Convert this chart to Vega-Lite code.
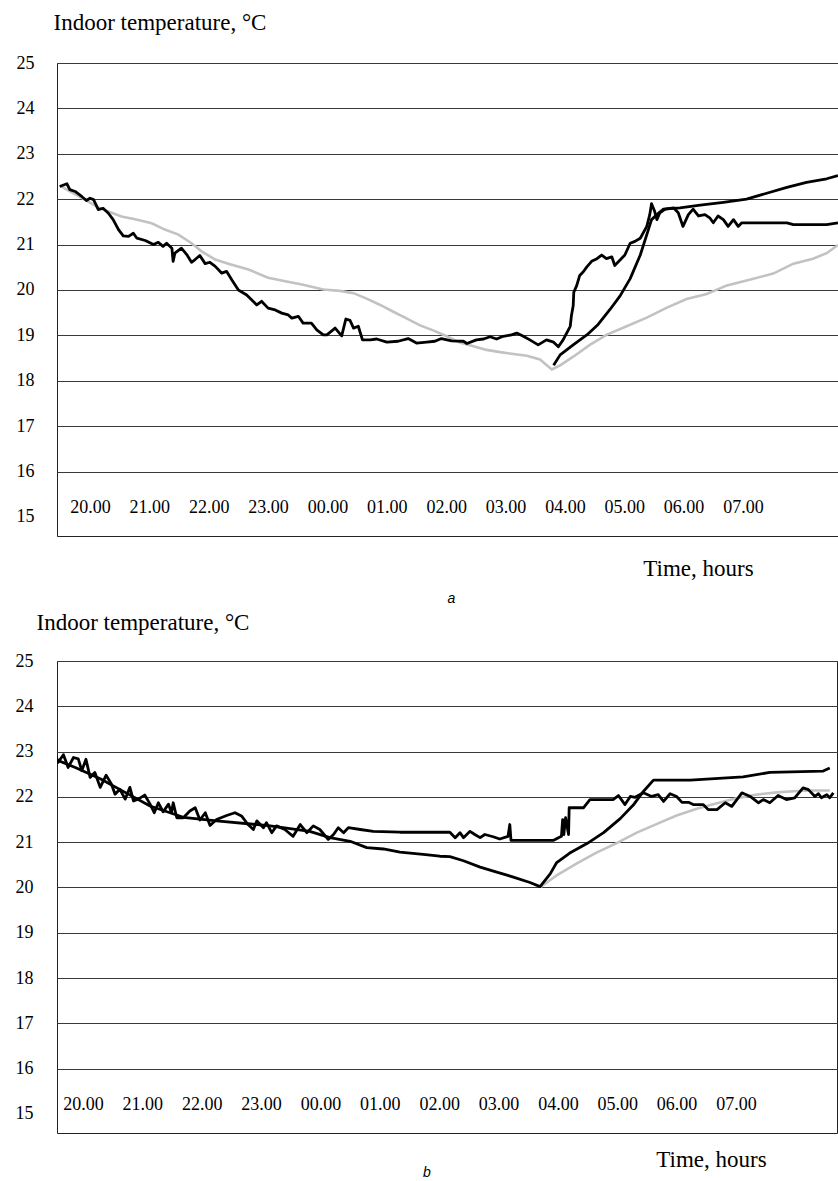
{
  "$schema": "https://vega.github.io/schema/vega-lite/v6.json",
  "background": "white",
  "padding": {"left": 14, "top": 10, "right": 0, "bottom": 0},
  "config": {
    "font": "Liberation Serif",
    "view": {"stroke": "#222222", "strokeWidth": 1}
  },
  "datasets": {
    "temps": [
      {"panel":"a","series":"measured","hour":-0.51,"temp":22.28},{"panel":"a","series":"measured","hour":-0.39,"temp":22.34},{"panel":"a","series":"measured","hour":-0.34,"temp":22.21},{"panel":"a","series":"measured","hour":-0.25,"temp":22.17},{"panel":"a","series":"measured","hour":-0.14,"temp":22.06},{"panel":"a","series":"measured","hour":-0.06,"temp":21.97},{"panel":"a","series":"measured","hour":0.0,"temp":22.02},{"panel":"a","series":"measured","hour":0.06,"temp":21.99},{"panel":"a","series":"measured","hour":0.14,"temp":21.77},{"panel":"a","series":"measured","hour":0.22,"temp":21.8},{"panel":"a","series":"measured","hour":0.31,"temp":21.69},{"panel":"a","series":"measured","hour":0.39,"temp":21.55},{"panel":"a","series":"measured","hour":0.48,"temp":21.33},{"panel":"a","series":"measured","hour":0.56,"temp":21.19},{"panel":"a","series":"measured","hour":0.65,"temp":21.18},{"panel":"a","series":"measured","hour":0.73,"temp":21.25},{"panel":"a","series":"measured","hour":0.79,"temp":21.14},{"panel":"a","series":"measured","hour":0.93,"temp":21.09},{"panel":"a","series":"measured","hour":1.07,"temp":21.0},{"panel":"a","series":"measured","hour":1.15,"temp":21.05},{"panel":"a","series":"measured","hour":1.23,"temp":20.96},{"panel":"a","series":"measured","hour":1.29,"temp":21.03},{"panel":"a","series":"measured","hour":1.38,"temp":20.92},{"panel":"a","series":"measured","hour":1.4,"temp":20.63},{"panel":"a","series":"measured","hour":1.43,"temp":20.81},{"panel":"a","series":"measured","hour":1.54,"temp":20.92},{"panel":"a","series":"measured","hour":1.63,"temp":20.78},{"panel":"a","series":"measured","hour":1.71,"temp":20.61},{"panel":"a","series":"measured","hour":1.77,"temp":20.67},{"panel":"a","series":"measured","hour":1.85,"temp":20.76},{"panel":"a","series":"measured","hour":1.94,"temp":20.58},{"panel":"a","series":"measured","hour":2.02,"temp":20.61},{"panel":"a","series":"measured","hour":2.11,"temp":20.52},{"panel":"a","series":"measured","hour":2.22,"temp":20.37},{"panel":"a","series":"measured","hour":2.3,"temp":20.41},{"panel":"a","series":"measured","hour":2.39,"temp":20.22},{"panel":"a","series":"measured","hour":2.5,"temp":20.0},{"panel":"a","series":"measured","hour":2.64,"temp":19.89},{"panel":"a","series":"measured","hour":2.81,"temp":19.67},{"panel":"a","series":"measured","hour":2.89,"temp":19.75},{"panel":"a","series":"measured","hour":3.0,"temp":19.6},{"panel":"a","series":"measured","hour":3.12,"temp":19.56},{"panel":"a","series":"measured","hour":3.23,"temp":19.49},{"panel":"a","series":"measured","hour":3.34,"temp":19.45},{"panel":"a","series":"measured","hour":3.4,"temp":19.38},{"panel":"a","series":"measured","hour":3.51,"temp":19.42},{"panel":"a","series":"measured","hour":3.59,"temp":19.27},{"panel":"a","series":"measured","hour":3.73,"temp":19.27},{"panel":"a","series":"measured","hour":3.82,"temp":19.12},{"panel":"a","series":"measured","hour":3.93,"temp":19.01},{"panel":"a","series":"measured","hour":3.99,"temp":19.01},{"panel":"a","series":"measured","hour":4.13,"temp":19.16},{"panel":"a","series":"measured","hour":4.24,"temp":18.99},{"panel":"a","series":"measured","hour":4.31,"temp":19.36},{"panel":"a","series":"measured","hour":4.38,"temp":19.33},{"panel":"a","series":"measured","hour":4.44,"temp":19.16},{"panel":"a","series":"measured","hour":4.52,"temp":19.2},{"panel":"a","series":"measured","hour":4.59,"temp":18.9},{"panel":"a","series":"measured","hour":4.72,"temp":18.9},{"panel":"a","series":"measured","hour":4.83,"temp":18.92},{"panel":"a","series":"measured","hour":5.0,"temp":18.85},{"panel":"a","series":"measured","hour":5.19,"temp":18.87},{"panel":"a","series":"measured","hour":5.36,"temp":18.93},{"panel":"a","series":"measured","hour":5.5,"temp":18.83},{"panel":"a","series":"measured","hour":5.67,"temp":18.85},{"panel":"a","series":"measured","hour":5.81,"temp":18.87},{"panel":"a","series":"measured","hour":5.92,"temp":18.93},{"panel":"a","series":"measured","hour":6.09,"temp":18.88},{"panel":"a","series":"measured","hour":6.29,"temp":18.87},{"panel":"a","series":"measured","hour":6.35,"temp":18.82},{"panel":"a","series":"measured","hour":6.51,"temp":18.9},{"panel":"a","series":"measured","hour":6.63,"temp":18.92},{"panel":"a","series":"measured","hour":6.74,"temp":18.97},{"panel":"a","series":"measured","hour":6.85,"temp":18.92},{"panel":"a","series":"measured","hour":6.96,"temp":18.98},{"panel":"a","series":"measured","hour":7.1,"temp":19.01},{"panel":"a","series":"measured","hour":7.19,"temp":19.05},{"panel":"a","series":"measured","hour":7.3,"temp":18.98},{"panel":"a","series":"measured","hour":7.41,"temp":18.9},{"panel":"a","series":"measured","hour":7.55,"temp":18.79},{"panel":"a","series":"measured","hour":7.69,"temp":18.9},{"panel":"a","series":"measured","hour":7.81,"temp":18.85},{"panel":"a","series":"measured","hour":7.89,"temp":18.75},{"panel":"a","series":"measured","hour":7.97,"temp":18.9},{"panel":"a","series":"measured","hour":8.03,"temp":19.05},{"panel":"a","series":"measured","hour":8.09,"temp":19.2},{"panel":"a","series":"measured","hour":8.11,"temp":19.43},{"panel":"a","series":"measured","hour":8.14,"temp":19.65},{"panel":"a","series":"measured","hour":8.15,"temp":19.95},{"panel":"a","series":"measured","hour":8.2,"temp":20.1},{"panel":"a","series":"measured","hour":8.25,"temp":20.32},{"panel":"a","series":"measured","hour":8.31,"temp":20.4},{"panel":"a","series":"measured","hour":8.37,"temp":20.51},{"panel":"a","series":"measured","hour":8.45,"temp":20.63},{"panel":"a","series":"measured","hour":8.54,"temp":20.69},{"panel":"a","series":"measured","hour":8.62,"temp":20.77},{"panel":"a","series":"measured","hour":8.7,"temp":20.69},{"panel":"a","series":"measured","hour":8.79,"temp":20.73},{"panel":"a","series":"measured","hour":8.84,"temp":20.54},{"panel":"a","series":"measured","hour":8.93,"temp":20.66},{"panel":"a","series":"measured","hour":9.01,"temp":20.77},{"panel":"a","series":"measured","hour":9.1,"temp":21.03},{"panel":"a","series":"measured","hour":9.18,"temp":21.07},{"panel":"a","series":"measured","hour":9.27,"temp":21.14},{"panel":"a","series":"measured","hour":9.38,"temp":21.4},{"panel":"a","series":"measured","hour":9.43,"temp":21.66},{"panel":"a","series":"measured","hour":9.46,"temp":21.9},{"panel":"a","series":"measured","hour":9.51,"temp":21.74},{"panel":"a","series":"measured","hour":9.55,"temp":21.55},{"panel":"a","series":"measured","hour":9.6,"temp":21.7},{"panel":"a","series":"measured","hour":9.69,"temp":21.78},{"panel":"a","series":"measured","hour":9.83,"temp":21.81},{"panel":"a","series":"measured","hour":9.91,"temp":21.7},{"panel":"a","series":"measured","hour":9.99,"temp":21.4},{"panel":"a","series":"measured","hour":10.08,"temp":21.66},{"panel":"a","series":"measured","hour":10.16,"temp":21.78},{"panel":"a","series":"measured","hour":10.25,"temp":21.63},{"panel":"a","series":"measured","hour":10.36,"temp":21.66},{"panel":"a","series":"measured","hour":10.44,"temp":21.59},{"panel":"a","series":"measured","hour":10.5,"temp":21.48},{"panel":"a","series":"measured","hour":10.58,"temp":21.63},{"panel":"a","series":"measured","hour":10.67,"temp":21.55},{"panel":"a","series":"measured","hour":10.75,"temp":21.4},{"panel":"a","series":"measured","hour":10.84,"temp":21.55},{"panel":"a","series":"measured","hour":10.92,"temp":21.4},{"panel":"a","series":"measured","hour":10.98,"temp":21.48},{"panel":"a","series":"measured","hour":11.74,"temp":21.48},{"panel":"a","series":"measured","hour":11.85,"temp":21.44},{"panel":"a","series":"measured","hour":12.41,"temp":21.44},{"panel":"a","series":"measured","hour":12.6,"temp":21.48},
      {"panel":"a","series":"model","hour":7.81,"temp":18.34},{"panel":"a","series":"model","hour":7.92,"temp":18.57},{"panel":"a","series":"model","hour":8.14,"temp":18.79},{"panel":"a","series":"model","hour":8.37,"temp":19.01},{"panel":"a","series":"model","hour":8.56,"temp":19.24},{"panel":"a","series":"model","hour":8.76,"temp":19.57},{"panel":"a","series":"model","hour":8.93,"temp":19.87},{"panel":"a","series":"model","hour":9.1,"temp":20.25},{"panel":"a","series":"model","hour":9.27,"temp":20.77},{"panel":"a","series":"model","hour":9.38,"temp":21.22},{"panel":"a","series":"model","hour":9.46,"temp":21.55},{"panel":"a","series":"model","hour":9.55,"temp":21.66},{"panel":"a","series":"model","hour":9.66,"temp":21.78},{"panel":"a","series":"model","hour":9.94,"temp":21.81},{"panel":"a","series":"model","hour":10.28,"temp":21.87},{"panel":"a","series":"model","hour":10.67,"temp":21.93},{"panel":"a","series":"model","hour":11.06,"temp":22.0},{"panel":"a","series":"model","hour":11.4,"temp":22.13},{"panel":"a","series":"model","hour":11.74,"temp":22.26},{"panel":"a","series":"model","hour":12.07,"temp":22.37},{"panel":"a","series":"model","hour":12.41,"temp":22.45},{"panel":"a","series":"model","hour":12.6,"temp":22.52},
      {"panel":"a","series":"baseline","hour":-0.51,"temp":22.3},{"panel":"a","series":"baseline","hour":-0.17,"temp":22.05},{"panel":"a","series":"baseline","hour":0.17,"temp":21.8},{"panel":"a","series":"baseline","hour":0.31,"temp":21.73},{"panel":"a","series":"baseline","hour":0.53,"temp":21.62},{"panel":"a","series":"baseline","hour":0.76,"temp":21.56},{"panel":"a","series":"baseline","hour":1.04,"temp":21.47},{"panel":"a","series":"baseline","hour":1.26,"temp":21.33},{"panel":"a","series":"baseline","hour":1.49,"temp":21.22},{"panel":"a","series":"baseline","hour":1.71,"temp":21.03},{"panel":"a","series":"baseline","hour":1.88,"temp":20.85},{"panel":"a","series":"baseline","hour":2.11,"temp":20.67},{"panel":"a","series":"baseline","hour":2.33,"temp":20.58},{"panel":"a","series":"baseline","hour":2.67,"temp":20.45},{"panel":"a","series":"baseline","hour":3.0,"temp":20.27},{"panel":"a","series":"baseline","hour":3.29,"temp":20.19},{"panel":"a","series":"baseline","hour":3.57,"temp":20.12},{"panel":"a","series":"baseline","hour":3.93,"temp":20.01},{"panel":"a","series":"baseline","hour":4.21,"temp":19.98},{"panel":"a","series":"baseline","hour":4.44,"temp":19.93},{"panel":"a","series":"baseline","hour":4.66,"temp":19.81},{"panel":"a","series":"baseline","hour":4.89,"temp":19.67},{"panel":"a","series":"baseline","hour":5.11,"temp":19.52},{"panel":"a","series":"baseline","hour":5.34,"temp":19.37},{"panel":"a","series":"baseline","hour":5.56,"temp":19.22},{"panel":"a","series":"baseline","hour":5.78,"temp":19.11},{"panel":"a","series":"baseline","hour":6.01,"temp":18.98},{"panel":"a","series":"baseline","hour":6.23,"temp":18.84},{"panel":"a","series":"baseline","hour":6.46,"temp":18.76},{"panel":"a","series":"baseline","hour":6.68,"temp":18.68},{"panel":"a","series":"baseline","hour":6.91,"temp":18.63},{"panel":"a","series":"baseline","hour":7.13,"temp":18.59},{"panel":"a","series":"baseline","hour":7.36,"temp":18.55},{"panel":"a","series":"baseline","hour":7.58,"temp":18.47},{"panel":"a","series":"baseline","hour":7.78,"temp":18.25},{"panel":"a","series":"baseline","hour":7.92,"temp":18.34},{"panel":"a","series":"baseline","hour":8.14,"temp":18.53},{"panel":"a","series":"baseline","hour":8.42,"temp":18.79},{"panel":"a","series":"baseline","hour":8.7,"temp":19.01},{"panel":"a","series":"baseline","hour":9.04,"temp":19.2},{"panel":"a","series":"baseline","hour":9.38,"temp":19.39},{"panel":"a","series":"baseline","hour":9.72,"temp":19.61},{"panel":"a","series":"baseline","hour":10.05,"temp":19.8},{"panel":"a","series":"baseline","hour":10.39,"temp":19.91},{"panel":"a","series":"baseline","hour":10.73,"temp":20.1},{"panel":"a","series":"baseline","hour":11.06,"temp":20.21},{"panel":"a","series":"baseline","hour":11.51,"temp":20.36},{"panel":"a","series":"baseline","hour":11.85,"temp":20.58},{"panel":"a","series":"baseline","hour":12.18,"temp":20.69},{"panel":"a","series":"baseline","hour":12.41,"temp":20.81},{"panel":"a","series":"baseline","hour":12.6,"temp":20.99},
      {"panel":"b","series":"measured","hour":-0.51,"temp":22.84},{"panel":"b","series":"measured","hour":-0.47,"temp":22.97},{"panel":"b","series":"measured","hour":-0.42,"temp":22.76},{"panel":"b","series":"measured","hour":-0.33,"temp":22.93},{"panel":"b","series":"measured","hour":-0.25,"temp":22.65},{"panel":"b","series":"measured","hour":-0.16,"temp":22.87},{"panel":"b","series":"measured","hour":-0.08,"temp":22.84},{"panel":"b","series":"measured","hour":-0.02,"temp":22.58},{"panel":"b","series":"measured","hour":0.05,"temp":22.83},{"panel":"b","series":"measured","hour":0.12,"temp":22.43},{"panel":"b","series":"measured","hour":0.2,"temp":22.54},{"panel":"b","series":"measured","hour":0.29,"temp":22.21},{"panel":"b","series":"measured","hour":0.39,"temp":22.48},{"panel":"b","series":"measured","hour":0.48,"temp":22.28},{"panel":"b","series":"measured","hour":0.54,"temp":22.06},{"panel":"b","series":"measured","hour":0.62,"temp":22.17},{"panel":"b","series":"measured","hour":0.71,"temp":21.95},{"panel":"b","series":"measured","hour":0.79,"temp":22.21},{"panel":"b","series":"measured","hour":0.85,"temp":21.91},{"panel":"b","series":"measured","hour":0.93,"temp":21.95},{"panel":"b","series":"measured","hour":1.04,"temp":22.04},{"panel":"b","series":"measured","hour":1.13,"temp":21.84},{"panel":"b","series":"measured","hour":1.2,"temp":21.65},{"panel":"b","series":"measured","hour":1.27,"temp":21.87},{"panel":"b","series":"measured","hour":1.35,"temp":21.67},{"panel":"b","series":"measured","hour":1.44,"temp":21.84},{"panel":"b","series":"measured","hour":1.49,"temp":21.65},{"panel":"b","series":"measured","hour":1.52,"temp":21.87},{"panel":"b","series":"measured","hour":1.58,"temp":21.54},{"panel":"b","series":"measured","hour":1.69,"temp":21.54},{"panel":"b","series":"measured","hour":1.8,"temp":21.69},{"panel":"b","series":"measured","hour":1.89,"temp":21.76},{"panel":"b","series":"measured","hour":1.97,"temp":21.49},{"panel":"b","series":"measured","hour":2.06,"temp":21.65},{"panel":"b","series":"measured","hour":2.14,"temp":21.37},{"panel":"b","series":"measured","hour":2.25,"temp":21.5},{"panel":"b","series":"measured","hour":2.42,"temp":21.59},{"panel":"b","series":"measured","hour":2.56,"temp":21.65},{"panel":"b","series":"measured","hour":2.67,"temp":21.58},{"panel":"b","series":"measured","hour":2.78,"temp":21.39},{"panel":"b","series":"measured","hour":2.87,"temp":21.28},{"panel":"b","series":"measured","hour":2.93,"temp":21.47},{"panel":"b","series":"measured","hour":3.04,"temp":21.32},{"panel":"b","series":"measured","hour":3.09,"temp":21.43},{"panel":"b","series":"measured","hour":3.18,"temp":21.21},{"panel":"b","series":"measured","hour":3.26,"temp":21.36},{"panel":"b","series":"measured","hour":3.4,"temp":21.28},{"panel":"b","series":"measured","hour":3.54,"temp":21.13},{"panel":"b","series":"measured","hour":3.66,"temp":21.39},{"panel":"b","series":"measured","hour":3.77,"temp":21.21},{"panel":"b","series":"measured","hour":3.88,"temp":21.36},{"panel":"b","series":"measured","hour":3.99,"temp":21.28},{"panel":"b","series":"measured","hour":4.13,"temp":21.06},{"panel":"b","series":"measured","hour":4.22,"temp":21.17},{"panel":"b","series":"measured","hour":4.3,"temp":21.32},{"panel":"b","series":"measured","hour":4.39,"temp":21.21},{"panel":"b","series":"measured","hour":4.47,"temp":21.32},{"panel":"b","series":"measured","hour":4.67,"temp":21.28},{"panel":"b","series":"measured","hour":4.89,"temp":21.24},{"panel":"b","series":"measured","hour":5.34,"temp":21.22},{"panel":"b","series":"measured","hour":6.18,"temp":21.22},{"panel":"b","series":"measured","hour":6.27,"temp":21.1},{"panel":"b","series":"measured","hour":6.35,"temp":21.21},{"panel":"b","series":"measured","hour":6.41,"temp":21.1},{"panel":"b","series":"measured","hour":6.52,"temp":21.24},{"panel":"b","series":"measured","hour":6.6,"temp":21.17},{"panel":"b","series":"measured","hour":6.69,"temp":21.1},{"panel":"b","series":"measured","hour":6.77,"temp":21.17},{"panel":"b","series":"measured","hour":6.91,"temp":21.12},{"panel":"b","series":"measured","hour":7.02,"temp":21.07},{"panel":"b","series":"measured","hour":7.16,"temp":21.13},{"panel":"b","series":"measured","hour":7.19,"temp":21.39},{"panel":"b","series":"measured","hour":7.21,"temp":21.04},{"panel":"b","series":"measured","hour":7.59,"temp":21.04},{"panel":"b","series":"measured","hour":7.92,"temp":21.04},{"panel":"b","series":"measured","hour":8.01,"temp":21.1},{"panel":"b","series":"measured","hour":8.06,"temp":21.13},{"panel":"b","series":"measured","hour":8.08,"temp":21.5},{"panel":"b","series":"measured","hour":8.1,"temp":21.17},{"panel":"b","series":"measured","hour":8.13,"temp":21.54},{"panel":"b","series":"measured","hour":8.18,"temp":21.17},{"panel":"b","series":"measured","hour":8.19,"temp":21.76},{"panel":"b","series":"measured","hour":8.43,"temp":21.76},{"panel":"b","series":"measured","hour":8.54,"temp":21.94},{"panel":"b","series":"measured","hour":8.93,"temp":21.94},{"panel":"b","series":"measured","hour":9.02,"temp":22.03},{"panel":"b","series":"measured","hour":9.13,"temp":21.83},{"panel":"b","series":"measured","hour":9.22,"temp":22.01},{"panel":"b","series":"measured","hour":9.3,"temp":21.99},{"panel":"b","series":"measured","hour":9.44,"temp":22.09},{"panel":"b","series":"measured","hour":9.58,"temp":22.01},{"panel":"b","series":"measured","hour":9.69,"temp":22.05},{"panel":"b","series":"measured","hour":9.78,"temp":21.9},{"panel":"b","series":"measured","hour":9.89,"temp":22.07},{"panel":"b","series":"measured","hour":10.0,"temp":22.01},{"panel":"b","series":"measured","hour":10.09,"temp":21.88},{"panel":"b","series":"measured","hour":10.2,"temp":21.88},{"panel":"b","series":"measured","hour":10.28,"temp":21.83},{"panel":"b","series":"measured","hour":10.45,"temp":21.83},{"panel":"b","series":"measured","hour":10.53,"temp":21.72},{"panel":"b","series":"measured","hour":10.68,"temp":21.72},{"panel":"b","series":"measured","hour":10.82,"temp":21.87},{"panel":"b","series":"measured","hour":10.93,"temp":21.79},{"panel":"b","series":"measured","hour":11.1,"temp":22.09},{"panel":"b","series":"measured","hour":11.24,"temp":22.01},{"panel":"b","series":"measured","hour":11.38,"temp":21.87},{"panel":"b","series":"measured","hour":11.46,"temp":21.94},{"panel":"b","series":"measured","hour":11.57,"temp":21.87},{"panel":"b","series":"measured","hour":11.71,"temp":22.03},{"panel":"b","series":"measured","hour":11.85,"temp":21.94},{"panel":"b","series":"measured","hour":11.99,"temp":21.98},{"panel":"b","series":"measured","hour":12.13,"temp":22.2},{"panel":"b","series":"measured","hour":12.22,"temp":22.16},{"panel":"b","series":"measured","hour":12.33,"temp":22.01},{"panel":"b","series":"measured","hour":12.39,"temp":22.07},{"panel":"b","series":"measured","hour":12.44,"temp":21.98},{"panel":"b","series":"measured","hour":12.53,"temp":22.05},{"panel":"b","series":"measured","hour":12.58,"temp":21.98},{"panel":"b","series":"measured","hour":12.64,"temp":22.09},
      {"panel":"b","series":"model","hour":-0.51,"temp":22.85},{"panel":"b","series":"model","hour":-0.13,"temp":22.65},{"panel":"b","series":"model","hour":0.29,"temp":22.4},{"panel":"b","series":"model","hour":0.71,"temp":22.1},{"panel":"b","series":"model","hour":1.13,"temp":21.8},{"panel":"b","series":"model","hour":1.69,"temp":21.55},{"panel":"b","series":"model","hour":2.25,"temp":21.47},{"panel":"b","series":"model","hour":3.09,"temp":21.37},{"panel":"b","series":"model","hour":3.37,"temp":21.32},{"panel":"b","series":"model","hour":3.82,"temp":21.24},{"panel":"b","series":"model","hour":4.16,"temp":21.1},{"panel":"b","series":"model","hour":4.5,"temp":21.02},{"panel":"b","series":"model","hour":4.78,"temp":20.88},{"panel":"b","series":"model","hour":5.06,"temp":20.85},{"panel":"b","series":"model","hour":5.34,"temp":20.78},{"panel":"b","series":"model","hour":5.73,"temp":20.73},{"panel":"b","series":"model","hour":6.01,"temp":20.69},{"panel":"b","series":"model","hour":6.18,"temp":20.68},{"panel":"b","series":"model","hour":6.41,"temp":20.59},{"panel":"b","series":"model","hour":6.69,"temp":20.45},{"panel":"b","series":"model","hour":6.97,"temp":20.34},{"panel":"b","series":"model","hour":7.25,"temp":20.23},{"panel":"b","series":"model","hour":7.53,"temp":20.11},{"panel":"b","series":"model","hour":7.7,"temp":20.02},{"panel":"b","series":"model","hour":7.87,"temp":20.3},{"panel":"b","series":"model","hour":7.98,"temp":20.55},{"panel":"b","series":"model","hour":8.2,"temp":20.76},{"panel":"b","series":"model","hour":8.49,"temp":20.97},{"panel":"b","series":"model","hour":8.77,"temp":21.21},{"panel":"b","series":"model","hour":9.05,"temp":21.52},{"panel":"b","series":"model","hour":9.27,"temp":21.82},{"panel":"b","series":"model","hour":9.44,"temp":22.12},{"panel":"b","series":"model","hour":9.61,"temp":22.37},{"panel":"b","series":"model","hour":10.23,"temp":22.37},{"panel":"b","series":"model","hour":11.12,"temp":22.44},{"panel":"b","series":"model","hour":11.57,"temp":22.54},{"panel":"b","series":"model","hour":12.47,"temp":22.57},{"panel":"b","series":"model","hour":12.58,"temp":22.64},
      {"panel":"b","series":"baseline","hour":7.7,"temp":20.0},{"panel":"b","series":"baseline","hour":7.98,"temp":20.27},{"panel":"b","series":"baseline","hour":8.32,"temp":20.53},{"panel":"b","series":"baseline","hour":8.65,"temp":20.77},{"panel":"b","series":"baseline","hour":8.99,"temp":20.98},{"panel":"b","series":"baseline","hour":9.33,"temp":21.21},{"panel":"b","series":"baseline","hour":9.66,"temp":21.4},{"panel":"b","series":"baseline","hour":10.0,"temp":21.59},{"panel":"b","series":"baseline","hour":10.34,"temp":21.74},{"panel":"b","series":"baseline","hour":10.68,"temp":21.86},{"panel":"b","series":"baseline","hour":11.01,"temp":21.97},{"panel":"b","series":"baseline","hour":11.35,"temp":22.05},{"panel":"b","series":"baseline","hour":11.69,"temp":22.1},{"panel":"b","series":"baseline","hour":12.03,"temp":22.13},{"panel":"b","series":"baseline","hour":12.3,"temp":22.14},{"panel":"b","series":"baseline","hour":12.58,"temp":22.14}
    ]
  },
  "concat": [
    {
      "width": 781,
      "height": 473,
      "title": {"text": "a", "orient": "bottom", "anchor": "middle", "font": "Liberation Sans", "fontStyle": "italic", "fontWeight": "normal", "fontSize": 14, "color": "#000000", "offset": 8, "dy": 4, "dx": 4},
      "data": {"name": "temps"},
      "transform": [{"filter": "datum.panel == 'a'"}],
      "encoding": {
        "x": {"field": "hour", "type": "quantitative",
          "scale": {"domain": [-0.556, 12.601], "nice": false, "zero": false},
          "axis": {"values": [0,1,2,3,4,5,6,7,8,9,10,11],
            "labelExpr": "(((datum.value + 20) % 24) < 10 ? '0' : '') + ((datum.value + 20) % 24) + '.00'",
            "ticks": false, "domain": false, "grid": false, "labelFlush": false, "labelOverlap": false,
            "labelPadding": -29, "labelBaseline": "middle", "labelFontSize": 18, "labelColor": "#000000", "labelFont": "Liberation Serif",
            "title": "Time, hours", "titleFont": "Liberation Serif", "titleFontSize": 23, "titleFontWeight": "normal", "titleColor": "#000000",
            "titleX": 641, "titleY": 39, "titleAlign": "center", "titleBaseline": "alphabetic"}},
        "y": {"field": "temp", "type": "quantitative",
          "scale": {"domain": [14.58, 25], "nice": false, "zero": false},
          "axis": {"values": [15,16,17,18,19,20,21,22,23,24,25],
            "ticks": false, "domain": false, "grid": true, "gridColor": "#3a3a3a", "gridWidth": 1,
            "gridOpacity": {"condition": {"test": "datum.value == 15", "value": 0}, "value": 1},
            "labelFlush": false, "labelPadding": 23, "labelFontSize": 18, "labelColor": "#000000", "labelFont": "Liberation Serif",
            "title": "Indoor temperature, °C", "titleFont": "Liberation Serif", "titleFontSize": 23, "titleFontWeight": "normal", "titleColor": "#000000",
            "titleAngle": 0, "titleAlign": "left", "titleBaseline": "alphabetic", "titleX": -4, "titleY": -34}}
      },
      "layer": [
        {"transform": [{"filter": "datum.series == 'baseline'"}], "mark": {"type": "line", "color": "#c2c2c2", "strokeWidth": 2.6, "clip": true}},
        {"transform": [{"filter": "datum.series != 'baseline'"}], "mark": {"type": "line", "color": "#000000", "strokeWidth": 2.8, "strokeJoin": "round", "clip": true}, "encoding": {"detail": {"field": "series"}}}
      ]
    },
    {
      "width": 780,
      "height": 472,
      "title": {"text": "b", "orient": "bottom", "anchor": "middle", "font": "Liberation Sans", "fontStyle": "italic", "fontWeight": "normal", "fontSize": 14, "color": "#000000", "offset": 8, "dy": -13, "dx": -20},
      "data": {"name": "temps"},
      "transform": [{"filter": "datum.panel == 'b'"}],
      "encoding": {
        "x": {"field": "hour", "type": "quantitative",
          "scale": {"domain": [-0.438, 12.702], "nice": false, "zero": false},
          "axis": {"values": [0,1,2,3,4,5,6,7,8,9,10,11],
            "labelExpr": "(((datum.value + 20) % 24) < 10 ? '0' : '') + ((datum.value + 20) % 24) + '.00'",
            "ticks": false, "domain": false, "grid": false, "labelFlush": false, "labelOverlap": false,
            "labelPadding": -29, "labelBaseline": "middle", "labelFontSize": 18, "labelColor": "#000000", "labelFont": "Liberation Serif",
            "title": "Time, hours", "titleFont": "Liberation Serif", "titleFontSize": 23, "titleFontWeight": "normal", "titleColor": "#000000",
            "titleX": 654, "titleY": 33, "titleAlign": "center", "titleBaseline": "alphabetic"}},
        "y": {"field": "temp", "type": "quantitative",
          "scale": {"domain": [14.58, 25], "nice": false, "zero": false},
          "axis": {"values": [15,16,17,18,19,20,21,22,23,24,25],
            "ticks": false, "domain": false, "grid": true, "gridColor": "#3a3a3a", "gridWidth": 1,
            "gridOpacity": {"condition": {"test": "datum.value == 15", "value": 0}, "value": 1},
            "labelFlush": false, "labelPadding": 24, "labelFontSize": 18, "labelColor": "#000000", "labelFont": "Liberation Serif",
            "title": "Indoor temperature, °C", "titleFont": "Liberation Serif", "titleFontSize": 23, "titleFontWeight": "normal", "titleColor": "#000000",
            "titleAngle": 0, "titleAlign": "left", "titleBaseline": "alphabetic", "titleX": -21, "titleY": -32}}
      },
      "layer": [
        {"transform": [{"filter": "datum.series == 'baseline'"}], "mark": {"type": "line", "color": "#c2c2c2", "strokeWidth": 2.6, "clip": true}},
        {"transform": [{"filter": "datum.series != 'baseline'"}], "mark": {"type": "line", "color": "#000000", "strokeWidth": 2.8, "strokeJoin": "round", "clip": true}, "encoding": {"detail": {"field": "series"}}}
      ]
    }
  ],
  "columns": 1,
  "align": "none",
  "spacing": 3
}
